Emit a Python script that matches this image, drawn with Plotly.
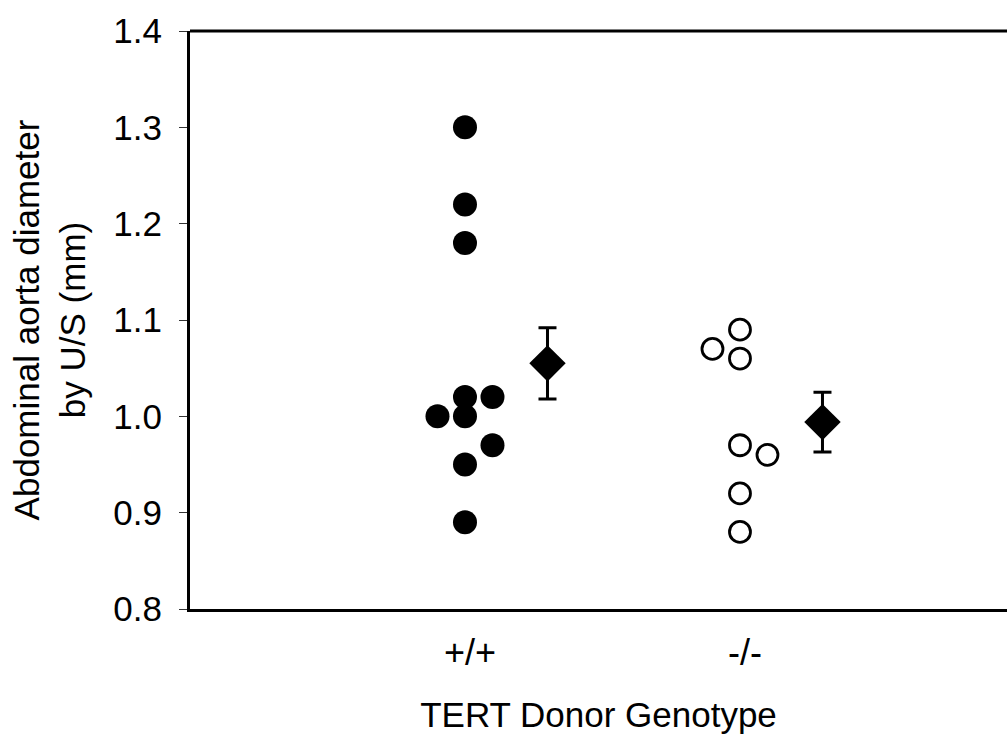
import plotly.graph_objects as go

# ---- data ----
groups = ["+/+", "-/-"]
group_pos = [1, 2]

wt_values = [1.30, 1.22, 1.18, 1.02, 1.02, 1.00, 1.00, 0.97, 0.95, 0.89]
wt_slot = [0, 0, 0, 0, 1, -1, 0, 1, 0, 0]

ko_values = [1.09, 1.07, 1.06, 0.97, 0.96, 0.92, 0.88]
ko_slot = [0, -1, 0, 0, 1, 0, 0]

means = [1.055, 0.994]
sems = [0.037, 0.031]

y_ticks = [0.8, 0.9, 1.0, 1.1, 1.2, 1.3, 1.4]

# ---- layout constants ----
SLOT = 0.1
MEAN_OFFSET = 0.3
FONT = "Liberation Sans, Arial, sans-serif"

fig = go.Figure()

fig.add_trace(go.Scatter(
    x=[group_pos[0] + s * SLOT for s in wt_slot], y=wt_values,
    mode="markers",
    marker=dict(symbol="circle", size=24, color="black"),
    showlegend=False,
))
fig.add_trace(go.Scatter(
    x=[group_pos[1] + s * SLOT for s in ko_slot], y=ko_values,
    mode="markers",
    marker=dict(symbol="circle-open", size=21, color="black", line=dict(width=2.8, color="black")),
    showlegend=False,
))
fig.add_trace(go.Scatter(
    x=[p + MEAN_OFFSET for p in group_pos], y=means,
    mode="markers",
    marker=dict(symbol="diamond", size=28, color="black"),
    error_y=dict(type="data", array=sems, visible=True, color="black", thickness=3, width=9),
    showlegend=False,
))

fig.add_shape(type="line", xref="paper", yref="paper", x0=0, x1=1, y0=1, y1=1,
              line=dict(color="black", width=3))

fig.update_layout(
    width=1007, height=737,
    margin=dict(l=190, r=0, t=31, b=128),
    paper_bgcolor="white", plot_bgcolor="white",
    font=dict(family=FONT, color="black"),
    xaxis=dict(
        range=[0, 2.971], automargin=False,
        tickvals=group_pos, ticktext=groups,
        showline=True, linecolor="black", linewidth=3,
        ticks="", showgrid=False, zeroline=False,
        tickfont=dict(size=36, family=FONT, color="black"),
        ticklabelshift=5, ticklabelstandoff=10,
        title=dict(text="TERT Donor Genotype", font=dict(size=35, family=FONT, color="black"),
                   standoff=31),
    ),
    yaxis=dict(
        range=[0.8, 1.4], automargin=False,
        tickvals=y_ticks, ticktext=[f"{v:.1f}" for v in y_ticks],
        showline=True, linecolor="black", linewidth=3,
        ticks="outside", ticklen=8, tickwidth=1, tickcolor="#333",
        showgrid=False, zeroline=False,
        tickfont=dict(size=35, family=FONT, color="black"),
        ticklabelstandoff=10,
        title=dict(text="Abdominal aorta diameter<br>by U/S (mm)",
                   font=dict(size=35, family=FONT, color="black"), standoff=18),
    ),
)

fig.write_html(
    "out.html",
    config={"displayModeBar": False},
    post_script="document.body.style.margin='0';document.body.style.padding='0';",
)
